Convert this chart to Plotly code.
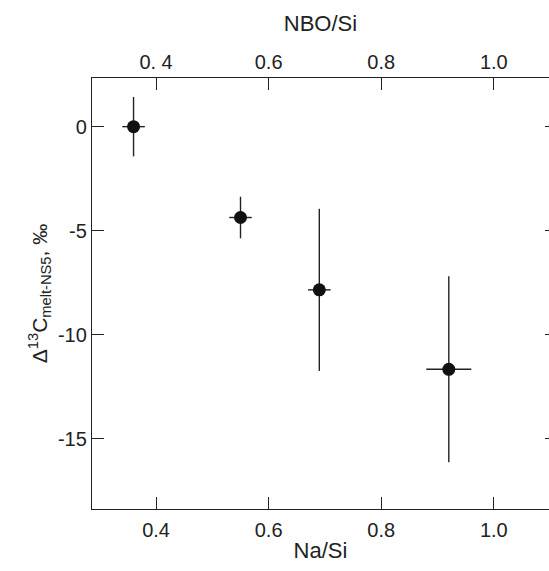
import plotly.graph_objects as go

na_si = [0.36, 0.55, 0.69, 0.92]
na_si_err = [0.02, 0.02, 0.02, 0.04]
d13c = [0.0, -4.37, -7.85, -11.67]
d13c_err = [1.43, 1.0, 3.9, 4.47]

tick_vals = [0.4, 0.6, 0.8, 1.0]
bottom_ticks = ["0.4", "0.6", "0.8", "1.0"]
top_ticks = ["0. 4", "0.6", "0.8", "1.0"]
y_ticks = [0, -5, -10, -15]

ink = "#222222"
family = "Arial, Liberation Sans, sans-serif"
tick_font = dict(family=family, size=20, color=ink)
title_font = dict(family=family, size=22, color=ink)

fig = go.Figure()
fig.add_trace(go.Scatter(
    x=na_si, y=d13c, mode="markers",
    marker=dict(size=13, color="#111111"),
    error_x=dict(type="data", array=na_si_err, color=ink, thickness=1.4, width=0),
    error_y=dict(type="data", array=d13c_err, color=ink, thickness=1.4, width=0),
    showlegend=False,
))
# empty traces so the top and right axes get drawn
fig.add_trace(go.Scatter(x=[None], y=[None], xaxis="x2", showlegend=False))
fig.add_trace(go.Scatter(x=[None], y=[None], yaxis="y2", showlegend=False))

axis_common = dict(showline=True, linecolor=ink, linewidth=1.3, ticks="inside",
                   ticklen=12, tickwidth=1.3, tickcolor=ink, showgrid=False,
                   zeroline=False, tickfont=tick_font, automargin=False)

xr = [0.2862, 1.098]
yr = [-18.39, 2.34]

fig.update_layout(
    width=549, height=571,
    margin=dict(l=92, r=0, t=78, b=62),
    plot_bgcolor="white", paper_bgcolor="white",
    font=tick_font,
    xaxis=dict(range=xr, tickvals=tick_vals, ticktext=bottom_ticks,
               ticklabelstandoff=3,
               title=dict(text="Na/Si", font=title_font, standoff=2),
               **axis_common),
    xaxis2=dict(overlaying="x", side="top", matches="x", range=xr,
                tickvals=tick_vals, ticktext=top_ticks,
                title=dict(text="NBO/Si", font=title_font, standoff=13),
                **axis_common),
    yaxis=dict(range=yr, tickvals=y_ticks,
               ticktext=[str(v) for v in y_ticks],
               title=dict(text="Δ<sup>13</sup>C<sub>melt-NS5</sub>, ‰",
                          font=dict(family=family, size=21, color=ink), standoff=4),
               **axis_common),
    # stub ticks at the right edge, the right spine itself is cut off
    yaxis2=dict(overlaying="y", side="right", matches="y", range=yr,
                tickvals=y_ticks, showticklabels=False, showline=False,
                ticks="inside", ticklen=4, tickwidth=1.3, tickcolor=ink,
                showgrid=False, zeroline=False),
)

fig.write_html("out.html", config={"displayModeBar": False},
               post_script="document.body.style.margin='0';")
